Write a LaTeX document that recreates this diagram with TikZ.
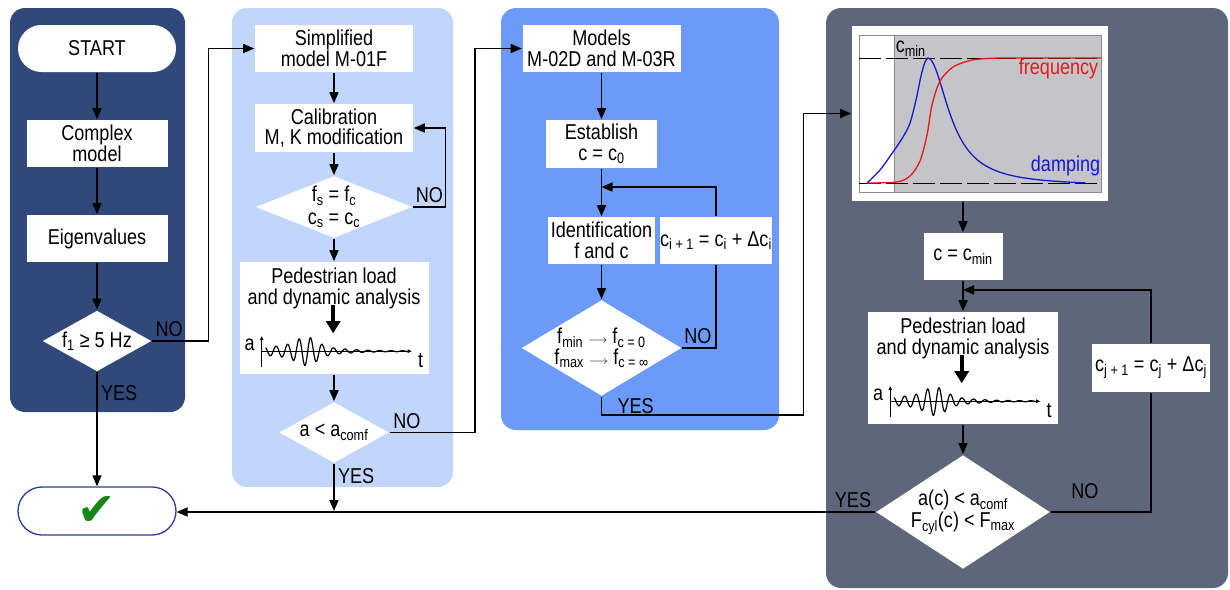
\documentclass[tikz,border=0pt]{standalone}
\usepackage{fontspec}
\setmainfont{Liberation Sans}[FakeStretch=0.84]
\newfontfamily\symfont{DejaVu Sans}
\usepackage{tikz}
\usetikzlibrary{arrows.meta,shapes.geometric,shapes.misc,positioning}
\definecolor{navy}{RGB}{49,73,122}
\definecolor{lightpanel}{RGB}{194,213,251}
\definecolor{midpanel}{RGB}{108,154,248}
\definecolor{slate}{RGB}{94,102,124}
\definecolor{plotgrey}{RGB}{196,196,201}
\definecolor{framegrey}{RGB}{138,138,140}
\definecolor{ckblue}{RGB}{43,61,154}
\definecolor{ckgreen}{RGB}{20,135,20}
\definecolor{dampblue}{RGB}{25,25,205}
\definecolor{freqred}{RGB}{230,25,25}

\begin{document}
\begin{tikzpicture}[x=1pt,y=-1pt,>={Triangle[length=11pt,width=9pt]},line width=1.6pt,
  font=\fontsize{21.5}{20.5}\selectfont,
  box/.style={fill=white,inner sep=0pt,align=center,minimum height=47pt},
  dec/.style={diamond,fill=white,inner sep=0pt,align=center},
  pill/.style={rounded rectangle,fill=white,inner sep=0pt,minimum width=158pt,minimum height=47pt},
  panel/.style={rounded corners=15pt},
  lbl/.style={anchor=north,align=center,inner sep=0pt,yshift=-6pt},
  accplot/.pic={
    \draw[line width=1.4pt,-{Triangle[length=4pt,width=3.5pt]}] (0,16) -- (0,-15);
    \draw[line width=1pt,-{Triangle[length=4pt,width=3.5pt]}] (0,0) -- (150,0);
    \draw[line width=1.2pt] plot[domain=4:146,samples=300]
      (\x,{-(9*exp(-1*(((\x-45)/14)^2))+4.5*exp(-1*(((\x-35)/45)^2))+1.5*exp(-\x/120))*sin(31.3*\x)});
    \draw[line width=4pt,-{Triangle[length=12pt,width=14pt]}] (71.5,-46) -- (71.5,-18);
    \node (a) at (-12,-6) {a};
    \node (t) at (159,9) {t};
  }]
  \useasboundingbox (0,0) rectangle (1230,589);

  % panels
  \fill[navy,panel] (10,8) rectangle (185,412);
  \fill[lightpanel,panel] (232,8) rectangle (453,487);
  \fill[midpanel,panel] (501,8) rectangle (779,430);
  \fill[slate,panel] (826,8) rectangle (1228,588);

  % first column
  \node[pill] (start) at (97,48.5) {START};
  \node[box,minimum width=141pt] (cplx) at (97,143.5) {Complex\\model};
  \node[box,minimum width=141pt] (eig) at (97,238.5) {Eigenvalues};
  \node[dec,minimum width=109pt,minimum height=61pt,aspect=1.8] (d1) at (97,341) {f\textsubscript{1} ≥ 5 Hz};
  \node[pill,draw=ckblue,line width=1.3pt,minimum height=48pt] (chk) at (97,511)
    {\symfont\fontsize{46}{46}\selectfont\color{ckgreen}✔};

  % second column
  \node[box,minimum width=158pt] (simp) at (334,48.5) {Simplified\\model M-01F};
  \node[box,minimum width=158pt,minimum height=48pt] (calib) at (334,128) {Calibration\\M, K modification};
  \node[dec,minimum width=157pt,minimum height=62pt,aspect=2.5,font=\fontsize{21.5}{22.5}\selectfont] (d2) at (334,207)
    {f\textsubscript{s} = f\textsubscript{c}\\c\textsubscript{s} = c\textsubscript{c}};
  \node[box,minimum width=189pt,minimum height=112pt,
    label={[lbl]north:Pedestrian load\\and dynamic analysis}] (ped1) at (334,318) {};
  \pic (w1) at ([shift={(23,90)}]ped1.north west) {accplot};
  \node[dec,minimum width=110pt,minimum height=61pt,aspect=1.8] (d3) at (334,432.5) {a < a\textsubscript{comf}};

  % third column
  \node[box,minimum width=158pt] (models) at (601.5,48.5) {Models\\M-02D and M-03R};
  \node[box,minimum width=111pt,minimum height=48pt] (est) at (601.5,144) {Establish\\c = c\textsubscript{0}};
  \node[box,minimum width=107pt] (ident) at (601.5,240.5) {Identification\\f and c};
  \node[box,minimum width=112pt] (cinc) at (716,240.5)
    {c\textsubscript{i + 1} = c\textsubscript{i} + Δc\textsubscript{i}};
  \node[dec,minimum width=160pt,minimum height=96pt,aspect=1.67,font=\fontsize{21.5}{19}\selectfont] (d4) at (601.5,348)
    {f\textsubscript{min} {\fontsize{13}{13}\selectfont$\longrightarrow$} f\textsubscript{c = 0}\\
     f\textsubscript{max} {\fontsize{13}{13}\selectfont$\longrightarrow$} f\textsubscript{c = ∞}};
  \coordinate (m1) at (601.5,187);

  % fourth column
  \node[box,minimum width=256pt,minimum height=175pt] (plotbox) at (980,113.5) {};
  \fill[plotgrey] (894,35) rectangle (1101,192);
  \draw[framegrey,line width=1pt] (859,35) rectangle (1101,192) (894,35) -- (894,192);
  \draw[line width=1pt,dash pattern=on 22pt off 5pt] (859,58) -- (1101,58) (859,183) -- (1101,183);
  \draw[dampblue,line width=1.3pt] plot[smooth] coordinates {(867,183) (880,170) (893,152) (903,137)
    (910,123) (916,100) (921,76) (925,62) (928,58)}
    -- plot[domain=928:1085,samples=80] (\x,{186-128/(1+((\x-928)/25)^2)});
  \draw[freqred,line width=1.3pt] plot[smooth] coordinates {(867,183) (897,182) (910,176) (920,161)
    (927,135) (932,105) (940,81) (953,67) (970,60.5) (987,58.5) (1010,58) (1101,58)};
  \node[anchor=south west,inner sep=0pt] (cminlbl) at (895,57) {c\textsubscript{min}};
  \node[anchor=east,inner sep=0pt,text=freqred] (freq) at (1099,69) {frequency};
  \node[anchor=east,inner sep=0pt,text=dampblue] (damp) at (1101,166) {damping};

  \node[box,minimum width=79pt] (cmin) at (963,256.5) {c = c\textsubscript{min}};
  \node[box,minimum width=190pt,minimum height=112pt,
    label={[lbl]north:Pedestrian load\\and dynamic analysis}] (ped2) at (963,368) {};
  \pic (w2) at ([shift={(23,90)}]ped2.north west) {accplot};
  \node[box,minimum width=118pt,minimum height=48pt] (cjinc) at (1151,368)
    {c\textsubscript{j + 1} = c\textsubscript{j} + Δc\textsubscript{j}};
  \node[dec,minimum width=174pt,minimum height=114pt,aspect=1.5,font=\fontsize{21.5}{22}\selectfont] (d5) at (963,512)
    {a(c) < a\textsubscript{comf}\\F\textsubscript{cyl}(c) < F\textsubscript{max}};
  \coordinate (m2) at (963,290);

  % connectors
  \path[->] (start) edge (cplx)
        (cplx) edge (eig)
        (eig) edge (d1)
        (d1) edge node[right,pos=0.18] {YES} (chk);
  \draw[->] (d1.east) -- node[above,pos=0.3] {NO} ++(56,0) |- (simp.west);

  \path[->] (simp) edge (calib)
        (calib) edge (d2)
        (d2) edge (ped1)
        (ped1) edge (d3);
  \draw[->] (d2.east) -- node[above] {NO} ++(32,0) |- (calib.east);
  \draw[->] (d3.east) -- node[above,pos=0.2] {NO} ++(85,0) |- (models.west);
  \draw[->] (d3.south) -- node[right,pos=0.25] {YES} (d3.south |- chk.east);

  \path[->] (models) edge (est)
        (est) edge (ident)
        (ident) edge (d4);
  \draw (d4.east) -| node[above,pos=0.23] {NO} (cinc.south);
  \draw[->] (cinc.north) |- (m1);
  \draw[->] (d4.south) |- node[right,pos=0.25,xshift=12pt] {YES} ++(202,18) |- (plotbox.west);

  \draw[->] (cmin.north |- plotbox.south) -- (cmin.north);
  \path[->] (cmin) edge (ped2)
        (ped2) edge (d5);
  \draw (d5.east) -| node[above=9pt,pos=0.17] {NO} (cjinc.south);
  \draw[->] (cjinc.north) |- (m2);
  \draw[->] (d5.west) -- node[above left,pos=0] {YES} (d5.west -| chk.east);
\end{tikzpicture}
\end{document}
